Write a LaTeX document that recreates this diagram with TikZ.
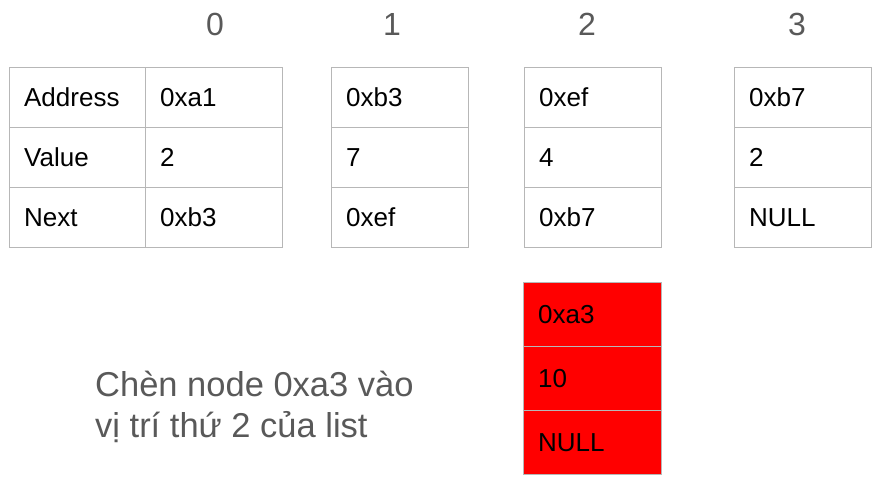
\documentclass[tikz,border=0pt]{standalone}
\usepackage{fontspec}
\setmainfont{Liberation Sans}
\definecolor{gridgray}{HTML}{B7B7B7}
\definecolor{labelgray}{HTML}{595959}
\definecolor{cellred}{HTML}{FF0000}
\begin{document}
\begin{tikzpicture}[x=1pt,y=-1pt,
  cell/.style={draw=gridgray, line width=1.3pt, anchor=north west,
    minimum height=60pt, inner xsep=14.5pt, inner ysep=0pt,
    text width=#1-29pt, align=left, font=\fontsize{26}{26}\selectfont,
    text height=18.6pt, text depth=0pt},
  redcell/.style={cell=138pt, fill=cellred, minimum height=64pt, text=black},
  idx/.style={anchor=base, text=labelgray, font=\fontsize{32}{32}\selectfont},
  note/.style={anchor=base west, text=labelgray, font=\fontsize{34.5}{34.5}\selectfont, inner sep=0pt}]
\useasboundingbox (0,0) rectangle (882,482);
% index labels
\node[idx] (i0) at (215,35) {0};
\node[idx] (i1) at (392,35) {1};
\node[idx] (i2) at (587,35) {2};
\node[idx] (i3) at (797,35) {3};
% table 0
\node[cell=136pt] (a0) at (9,67) {Address};
\node[cell=136pt] (a1) at (9,127) {Value};
\node[cell=136pt] (a2) at (9,187) {Next};
\node[cell=137pt] (b0) at (145,67) {0xa1};
\node[cell=137pt] (b1) at (145,127) {2};
\node[cell=137pt] (b2) at (145,187) {0xb3};
% table 1
\node[cell=137pt] (c0) at (331,67) {0xb3};
\node[cell=137pt] (c1) at (331,127) {7};
\node[cell=137pt] (c2) at (331,187) {0xef};
% table 2
\node[cell=137pt] (d0) at (524,67) {0xef};
\node[cell=137pt] (d1) at (524,127) {4};
\node[cell=137pt] (d2) at (524,187) {0xb7};
% table 3
\node[cell=137pt] (e0) at (734,67) {0xb7};
\node[cell=137pt] (e1) at (734,127) {2};
\node[cell=137pt] (e2) at (734,187) {NULL};
% new node
\node[redcell] (r0) at (523,282) {0xa3};
\node[redcell] (r1) at (523,346) {10};
\node[redcell] (r2) at (523,410) {NULL};
% note
\node[note] (n1) at (95,396) {Chèn node 0xa3 vào};
\node[note] (n2) at (95,437) {vị trí thứ 2 của list};
\end{tikzpicture}
\end{document}
